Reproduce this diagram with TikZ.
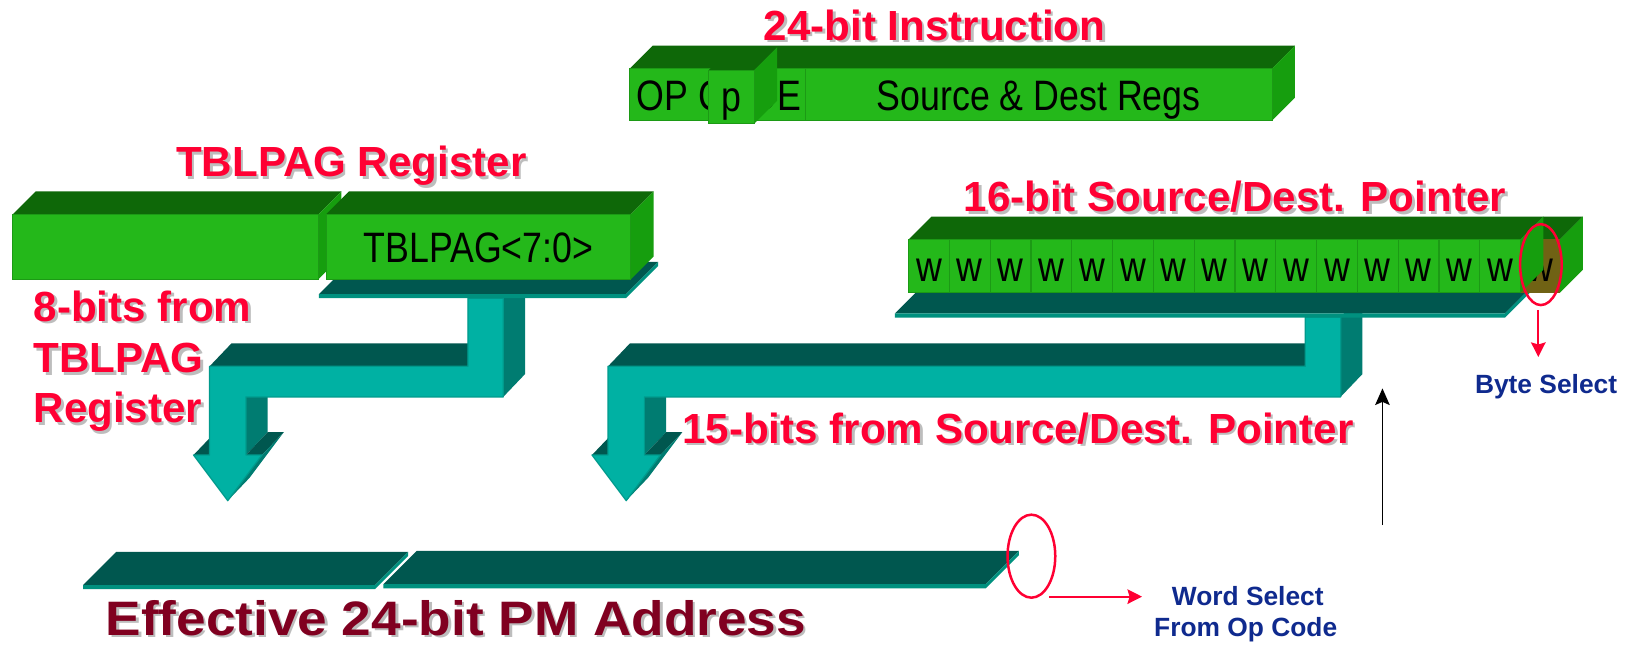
\documentclass[tikz,border=0pt]{standalone}
\usepackage{fontspec}
\setmainfont{Liberation Sans}
\newfontfamily\narrowsans[FakeStretch=0.84]{Liberation Sans}
\newfontfamily\widesans[FakeStretch=1.1]{Liberation Sans}
\usetikzlibrary{arrows.meta,shapes.geometric}

\definecolor{gfront}{HTML}{24B81A}
\definecolor{gtop}{HTML}{0E6808}
\definecolor{gside}{HTML}{169E0E}
\definecolor{gedge}{HTML}{1C9A15}
\definecolor{tfront}{HTML}{00B1A3}
\definecolor{ttop}{HTML}{00574F}
\definecolor{tside}{HTML}{007C71}
\definecolor{tedge}{HTML}{009A8C}
\definecolor{tstrip}{HTML}{00917F}
\definecolor{olivecell}{HTML}{706214}
\definecolor{titlered}{HTML}{FF0033}
\definecolor{shadowgray}{HTML}{BDBDBD}
\definecolor{pmmaroon}{HTML}{800020}
\definecolor{selblue}{HTML}{0F2A8E}

% depth of the green register boxes
\newcommand\bdx{22}
\newcommand\bdy{22}

% green 3-D register box: left, top, right, bottom of the front face
\newcommand\greenbox[4]{%
  \fill[gtop] (#1,#2) -- ({#1+\bdx},{#2-\bdy}) -- ({#3+\bdx},{#2-\bdy}) -- (#3,#2) -- cycle;
  \fill[gside] (#3,#2) -- ({#3+\bdx},{#2-\bdy}) -- ({#3+\bdx},{#4-\bdy}) -- (#3,#4) -- cycle;
  \filldraw[fill=gfront,draw=gedge,line width=0.5pt] (#1,#2) rectangle (#3,#4);}

% flat teal slab: front-left x, front-right x, front y, depth
\newcommand\tealslab[4]{%
  \fill[ttop] (#1,#3) -- ({#1+#4},{#3-#4}) -- ({#2+#4},{#3-#4}) -- (#2,#3) -- cycle;
  \fill[tstrip] (#1,#3) -- (#2,#3) -- ({#2+#4},{#3-#4}) -- ({#2+#4},{#3-#4+4})
    -- (#2,{#3+4}) -- (#1,{#3+4}) -- cycle;}

% extruded teal bus arrow: upper shaft left x, top y, lower shaft left x
\newcommand\teelarrow[3]{%
  \fill[tside] ({#1+34},#2) -- ({#1+34},382.5) -- ({#1+55},360.5) -- ({#1+55},{#2-22}) -- cycle;
  \fill[ttop] (#3,353) -- (#1,353) -- ({#1+21},331) -- ({#3+21},331) -- cycle;
  \fill[tside] ({#3+35},382.5) -- ({#3+35},438.5) -- ({#3+56},416.5) -- ({#3+56},360.5) -- cycle;
  \fill[ttop] ({#3+35},438.5) -- ({#3+50.5},438.5) -- ({#3+71.5},416.5) -- ({#3+56},416.5) -- cycle;
  \fill[tside] ({#3+50.5},438.5) -- ({#3+17.5},482.5) -- ({#3+38.5},460.5) -- ({#3+71.5},416.5) -- cycle;
  \fill[ttop] ({#3-15.5},438.5) -- (#3,438.5) -- ({#3+21},416.5) -- ({#3+5.5},416.5) -- cycle;
  \filldraw[fill=tfront,draw=tedge,line width=0.6pt,line join=round]
    (#1,#2) -- ({#1+34},#2) -- ({#1+34},382.5) -- ({#3+35},382.5) -- ({#3+35},438.5)
    -- ({#3+50.5},438.5) -- ({#3+17.5},482.5) -- ({#3-15.5},438.5) -- (#3,438.5)
    -- (#3,353) -- (#1,353) -- cycle;}

% label with a soft grey drop shadow: name, style, anchor, position, text
\newcommand\shadowlabel[5]{%
  \node[#2,anchor=#3,text=shadowgray] (#1-shadow) at ([shift={(1.2pt,-1.2pt)}]#4) {#5};
  \node[#2,anchor=#3] (#1) at (#4) {#5};}

\tikzset{
  redtitle/.style={font=\bfseries\fontsize{20.3}{24}\selectfont,text=titlered,inner sep=0pt},
  regtext/.style={font=\narrowsans\fontsize{20.5}{24}\selectfont,text=black,inner sep=0pt},
  bluelabel/.style={font=\bfseries\fontsize{12.7}{15}\selectfont,text=selblue,inner sep=0pt},
  pmtitle/.style={font=\widesans\bfseries\fontsize{23.3}{27}\selectfont,text=pmmaroon,inner sep=0pt},
  ring/.style={ellipse,draw=titlered,line width=1.2pt,inner sep=0pt},
  redarrow/.style={draw=titlered,line width=1pt,-{Stealth[length=7pt,width=7pt,inset=1pt]}},
  blackarrow/.style={draw=black,line width=0.9pt,-{Stealth[length=8pt,width=7pt,inset=1.5pt]}}
}

\begin{document}
\begin{tikzpicture}[x=0.5pt,y=-0.5pt]
\fill[white] (0,0) rectangle (1568,621);
\useasboundingbox (0,0) rectangle (1568,621);

% ---- 24-bit instruction word ----
\greenbox{607}{66}{1226}{116}
\draw[gedge,line width=0.6pt] (776,66) -- (776,116);
\node[regtext,anchor=base] (opcode) at (693,106.7) {OP CODE};
\node[regtext,anchor=base] (regs) at (1001,106.7) {Source \& Dest Regs};
\greenbox{683}{67.5}{727}{119}
\node[regtext,anchor=base] (pbit) at (705,107.6) {p};
\shadowlabel{instrtitle}{redtitle}{base}{900.7,38.6}{24-bit Instruction}

% ---- TBLPAG register and its bus ----
\teelarrow{451}{287.5}{202}
\tealslab{307.4}{603.3}{283.4}{31}
\greenbox{12.5}{206.5}{307}{269}
\greenbox{314.3}{206.5}{608}{269}
\node[regtext,anchor=base] (tblpagbits) at (461,253.2) {TBLPAG<7:0>};
\shadowlabel{tbltitle}{redtitle}{base}{338.6,170.3}{TBLPAG Register}
\shadowlabel{eightA}{redtitle}{base west}{32,309.6}{8-bits from}
\shadowlabel{eightB}{redtitle}{base west}{32,359}{TBLPAG}
\shadowlabel{eightC}{redtitle}{base west}{32,407.5}{Register}

% ---- 16-bit source/destination pointer and its bus ----
\teelarrow{1258}{305.5}{586}
\tealslab{862.5}{1450.5}{302}{31}
% least significant bit cell
\fill[gtop] (1465.4,230.7) -- (1487.4,208.7) -- (1525.5,208.7) -- (1503.5,230.7) -- cycle;
\fill[gside] (1503.5,230.7) -- (1525.5,208.7) -- (1525.5,260) -- (1503.5,282) -- cycle;
\fill[olivecell] (1465.4,230.7) rectangle (1503.5,282);
\node[regtext,anchor=base] (w15) at (1484.5,271.5) {w};
% upper fifteen bits
\greenbox{875.7}{230.7}{1465.4}{282}
\foreach \k in {1,...,14}
  \draw[gedge,line width=0.6pt] ({875.7+\k*39.31},230.7) -- ({875.7+\k*39.31},282);
\foreach \k in {0,...,14}
  \node[regtext,anchor=base] (w\k) at ({875.7+(\k+0.5)*39.31},271.5) {w};
\shadowlabel{ptrtitle}{redtitle}{base}{1190,204}{16-bit Source/Dest. Pointer}
\shadowlabel{fifteen}{redtitle}{base}{981,427.3}{15-bits from Source/Dest. Pointer}

% byte select
\node[ring,minimum width=20pt,minimum height=39pt] (bytering) at (1485,255) {};
\coordinate (bytefrom) at (1482.5,299);
\coordinate (byteto) at (1482.5,344);
\draw[redarrow] (bytefrom) -- (byteto);
\node[bluelabel,anchor=base] (bytesel) at (1490,379) {Byte Select};

% black marker arrow
\coordinate (upfoot) at (1332.3,506);
\coordinate (uptip) at (1332.3,374.3);
\draw[blackarrow] (upfoot) -- (uptip);

% ---- effective program memory address ----
\tealslab{80.2}{361.4}{563.8}{32}
\tealslab{369.5}{950}{563}{32}
\node[ring,minimum width=23pt,minimum height=40pt] (wordring) at (994,536) {};
\coordinate (wordfrom) at (1011,575);
\coordinate (wordto) at (1100.6,575);
\draw[redarrow] (wordfrom) -- (wordto);
\node[bluelabel,anchor=base] (wordsel1) at (1202.5,584) {Word Select};
\node[bluelabel,anchor=base] (wordsel2) at (1200.5,613.6) {From Op Code};
\shadowlabel{pmaddr}{pmtitle}{base}{439.3,612}{Effective 24-bit PM Address}
\end{tikzpicture}
\end{document}
